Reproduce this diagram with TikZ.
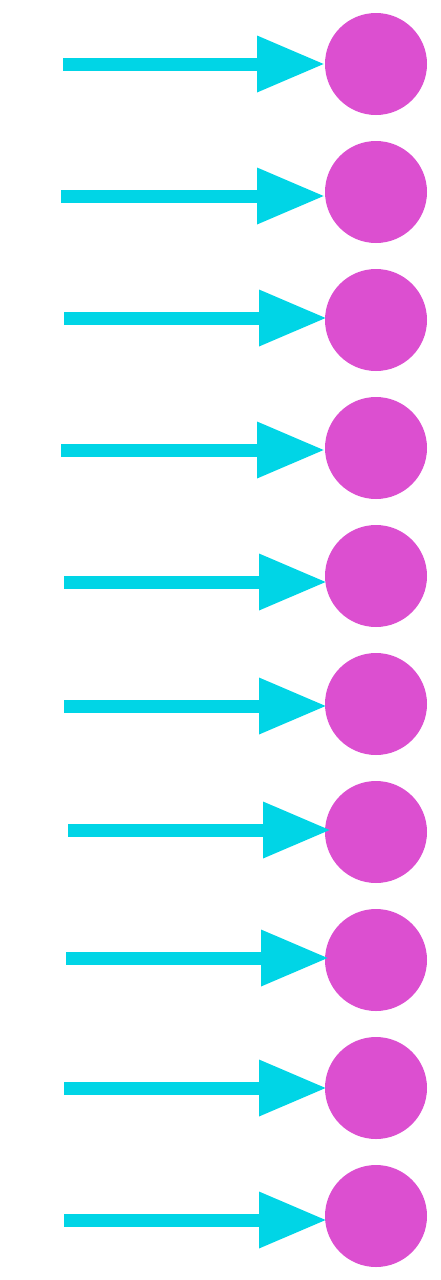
\documentclass[tikz,border=0pt]{standalone}
\usetikzlibrary{arrows.meta}
\definecolor{dotpink}{HTML}{DC4FD0}
\definecolor{arrcyan}{HTML}{00D5E6}

\begin{document}
\begin{tikzpicture}[x=1pt,y=-1pt,
  dot/.style={circle, fill=dotpink, minimum size=102pt, inner sep=0pt},
  feed/.style={arrcyan, line width=13pt, -{Triangle[length=68pt,width=53pt]}}]
\useasboundingbox (0,0) rectangle (440,1280);
\node[dot] (d1) at (376,64) {};
\node[dot] (d2) at (376,192) {};
\node[dot] (d3) at (376,320) {};
\node[dot] (d4) at (376,448) {};
\node[dot] (d5) at (376,576) {};
\node[dot] (d6) at (376,704) {};
\node[dot] (d7) at (376,832) {};
\node[dot] (d8) at (376,960) {};
\node[dot] (d9) at (376,1088) {};
\node[dot] (d10) at (376,1216) {};
%\coordinate (s0) at (60,0);
\coordinate (s1) at (63,64);    \coordinate (t1) at (325,64);
\coordinate (s2) at (61,196);   \coordinate (t2) at (325,196);
\coordinate (s3) at (64,318);   \coordinate (t3) at (327,318);
\coordinate (s4) at (61,450);   \coordinate (t4) at (325,450);
\coordinate (s5) at (64,582);   \coordinate (t5) at (327,582);
\coordinate (s6) at (64,706);   \coordinate (t6) at (327,706);
\coordinate (s7) at (68,830);   \coordinate (t7) at (331,830);
\coordinate (s8) at (66,958);   \coordinate (t8) at (329,958);
\coordinate (s9) at (64,1088);  \coordinate (t9) at (327,1088);
\coordinate (s10) at (64,1220); \coordinate (t10) at (327,1220);
\draw[feed] (s1) -- (t1);
\draw[feed] (s2) -- (t2);
\draw[feed] (s3) -- (t3);
\draw[feed] (s4) -- (t4);
\draw[feed] (s5) -- (t5);
\draw[feed] (s6) -- (t6);
\draw[feed] (s7) -- (t7);
\draw[feed] (s8) -- (t8);
\draw[feed] (s9) -- (t9);
\draw[feed] (s10) -- (t10);
\end{tikzpicture}
\end{document}
